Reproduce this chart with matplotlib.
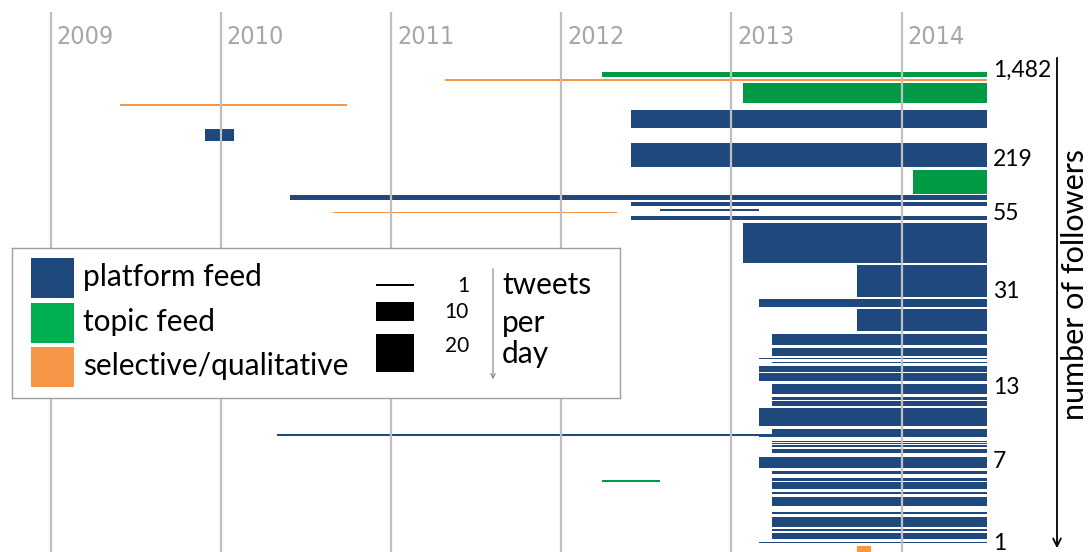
import matplotlib

matplotlib.use("Agg")
import matplotlib.pyplot as plt
from matplotlib.patches import Rectangle

plt.rcParams["font.family"] = ["Lato", "DejaVu Sans"]

# accounts: start year, end year, vertical slot (rank by followers), tweets/day, kind
starts = [2012.24, 2011.32, 2013.07, 2009.41, 2012.41, 2009.91, 2012.41, 2014.07,
          2010.41, 2012.41, 2012.58, 2010.66, 2012.41, 2013.07, 2013.74, 2013.16,
          2013.74, 2013.24, 2013.24, 2013.16, 2013.24, 2013.16, 2013.16, 2013.24,
          2013.24, 2013.24, 2013.16, 2013.16, 2013.24, 2010.33, 2013.16, 2013.24,
          2013.24, 2013.24, 2013.24, 2013.16, 2013.24, 2013.24, 2013.24, 2013.24,
          2013.24, 2013.24, 2013.24, 2013.24, 2013.24, 2013.24, 2013.16, 2013.74,
          2012.24]
ends = [2014.5, 2014.5, 2014.5, 2010.74, 2014.5, 2010.08, 2014.5, 2014.5,
        2014.5, 2014.5, 2013.16, 2012.33, 2014.5, 2014.5, 2014.5, 2014.5,
        2014.5, 2014.5, 2014.5, 2014.5, 2014.5, 2014.5, 2014.5, 2014.5,
        2014.5, 2014.5, 2014.5, 2014.5, 2014.5, 2014.5, 2014.5, 2014.5,
        2014.5, 2014.5, 2014.5, 2014.5, 2014.5, 2014.5, 2014.5, 2014.5,
        2014.5, 2014.5, 2014.5, 2014.5, 2014.5, 2014.5, 2014.5, 2013.82,
        2012.58]
slots = [74.5, 79.8, 93.0, 105.0, 118.8, 135.0, 155.3, 182.2,
         197.8, 204.0, 209.8, 212.5, 217.8, 243.0, 281.0, 303.0,
         320.0, 339.5, 352.0, 358.6, 362.6, 369.2, 377.2, 389.1,
         398.5, 403.5, 410.4, 419.7, 431.5, 435.0, 436.2, 441.5,
         443.8, 445.8, 451.0, 462.8, 472.7, 479.5, 485.3, 493.3,
         501.7, 512.8, 519.2, 524.8, 529.8, 536.2, 542.5, 550.0,
         481.0]
tweets = [2.9, 0.8, 10.8, 1.2, 9.3, 6.3, 12.6, 12.8,
          2.6, 1.8, 1.2, 0.8, 1.9, 21.4, 16.7, 4.4,
          11.4, 5.8, 4.2, 0.8, 0.8, 3.4, 4.0, 5.4,
          2.0, 2.2, 2.3, 6.7, 2.6, 1.0, 1.3, 0.8,
          0.6, 0.9, 1.8, 5.8, 1.7, 1.3, 3.8, 1.1,
          4.6, 1.2, 2.6, 2.6, 0.9, 3.0, 0.8, 4.5,
          0.8]
kinds = ["topic", "selective", "topic", "selective", "platform", "platform", "platform", "topic",
         "platform", "platform", "platform", "selective", "platform", "platform", "platform", "platform",
         "platform", "platform", "platform", "platform", "platform", "platform", "platform", "platform",
         "platform", "platform", "platform", "platform", "platform", "platform", "platform", "platform",
         "platform", "platform", "platform", "platform", "platform", "platform", "platform", "platform",
         "platform", "platform", "platform", "platform", "platform", "platform", "platform", "selective",
         "topic"]

years = [2009, 2010, 2011, 2012, 2013, 2014]
follower_labels = ["1,482", "219", "55", "31", "13", "7", "1"]
follower_slots = [70, 159, 214, 291, 387, 462, 543]

legend_kinds = ["platform feed", "topic feed", "selective/qualitative"]
legend_rates = [1, 10, 20]

bar_colors = {"platform": "#1F497D", "topic": "#009A44", "selective": "#F79646"}
legend_colors = ["#1F497D", "#00B050", "#F79646"]

PX_PER_YEAR = 170.2
X0 = 2009 - 50.5 / PX_PER_YEAR
PX_PER_TWEET = 1.9


def year_at(px):
    return X0 + px / PX_PER_YEAR


fig = plt.figure(figsize=(10.91, 5.52), dpi=100)
ax = fig.add_axes([0, 0, 1, 1])
ax.set_xlim(X0, year_at(1091))
ax.set_ylim(552, 0)
ax.axis("off")

# year grid
ax.vlines(years, 12, 552, color="#BFBFBF", lw=1.6, zorder=3)
for yr in years:
    ax.text(yr + 6 / PX_PER_YEAR, 37, str(yr), color="#A6A6A6", fontsize=18,
            family=["DejaVu Sans"], fontstretch="condensed", va="center", ha="left")

# account bars
ax.barh(slots, [e - s for s, e in zip(starts, ends)], left=starts,
        height=[t * PX_PER_TWEET for t in tweets],
        color=[bar_colors[k] for k in kinds], lw=0, zorder=2)

# follower labels on the right
for lab, yv in zip(follower_labels, follower_slots):
    ax.text(year_at(993), yv, lab, fontsize=16.5, va="center", ha="left")

ax.annotate("", xy=(year_at(1057), 551), xytext=(year_at(1057), 55),
            arrowprops=dict(arrowstyle="->", lw=1.3, color="black", mutation_scale=14))
ax.text(year_at(1075), 285, "number of followers", rotation=90, fontsize=22,
        va="center", ha="center")

# legend box (pixel coordinates inside)
lg = fig.add_axes([12 / 1091, 1 - 398 / 552, 608 / 1091, 150 / 552])
lg.set_xlim(0, 608)
lg.set_ylim(150, 0)
lg.set_xticks([])
lg.set_yticks([])
for sp in lg.spines.values():
    sp.set_color("#A0A0A0")
    sp.set_linewidth(1)
lg.set_zorder(5)

for i, (name, col) in enumerate(zip(legend_kinds, legend_colors)):
    top = 10 + i * 44.5
    lg.add_patch(Rectangle((19, top), 43, 40, color=col, lw=0))
    lg.text(71, top + 19, name, fontsize=21.5, va="center", ha="left")

rate_tops = [37, 54, 86]
for r, top in zip(legend_rates, rate_tops):
    h = max(r * PX_PER_TWEET, 2)
    lg.add_patch(Rectangle((364, top + (0 if r > 1 else -1)), 38, h, color="black", lw=0))
for r, yv in zip(legend_rates, [38, 64, 98]):
    lg.text(457, yv, str(r), fontsize=15, va="center", ha="right")
lg.annotate("", xy=(481, 134), xytext=(481, 18),
            arrowprops=dict(arrowstyle="->", lw=0.8, color="#808080", mutation_scale=8))
for word, yv in zip(["tweets", "per", "day"], [37, 75, 106]):
    lg.text(490, yv, word, fontsize=21.5, va="center", ha="left")

fig.savefig("out.png", dpi=100)
